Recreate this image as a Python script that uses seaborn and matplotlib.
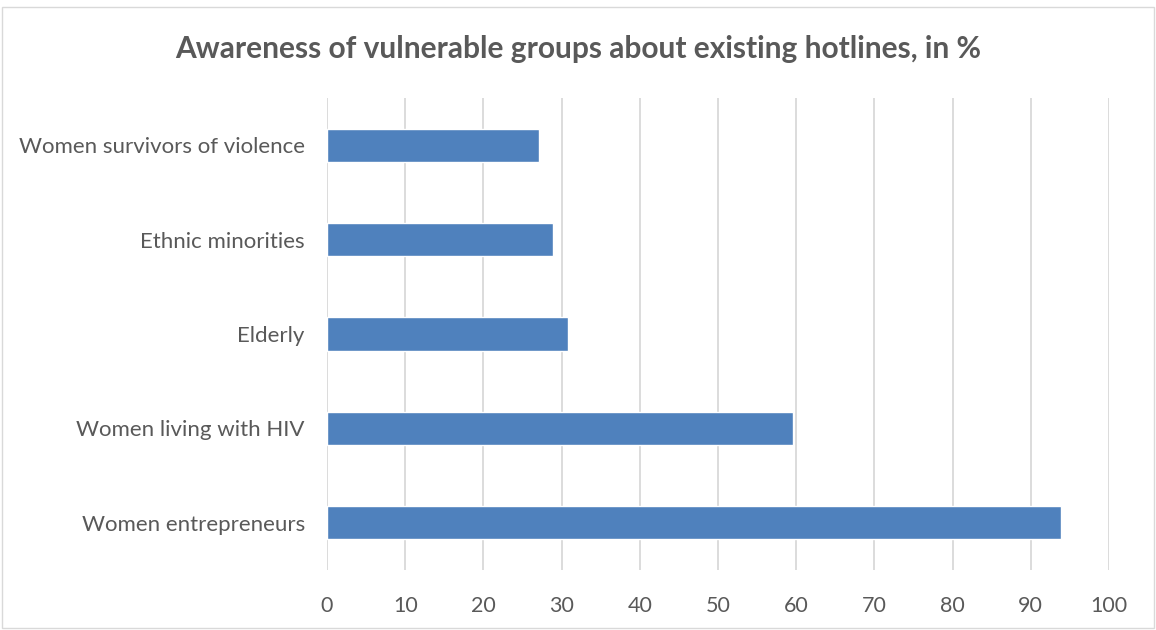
import matplotlib
matplotlib.use("Agg")
import matplotlib.pyplot as plt
import seaborn as sns
import pandas as pd
from matplotlib.patches import Rectangle

categories = ["Women survivors of violence", "Ethnic minorities", "Elderly",
              "Women living with HIV", "Women entrepreneurs"]
values = [27.1, 28.9, 30.8, 59.6, 93.8]
xticks = [0, 10, 20, 30, 40, 50, 60, 70, 80, 90, 100]
title = "Awareness of vulnerable groups about existing hotlines, in %"

sns.set_theme(style="white")
plt.rcParams['font.family'] = ['Lato', 'DejaVu Sans']

df = pd.DataFrame({"group": categories, "value": values})

fig = plt.figure(figsize=(11.56, 6.3), dpi=100)
ax = fig.add_axes([327/1156, 1-570/630, (1109-327)/1156, (570-98)/630])

sns.barplot(data=df, y="group", x="value", orient="h", color="#4F81BD",
            saturation=1, width=0.35, ax=ax, zorder=3)

ax.set_xlim(0, 100)
ax.set_ylim(4.5, -0.5)
ax.set_xticks(xticks)
ax.set_xticklabels([str(t) for t in xticks])
ax.grid(axis="x", color="#D9D9D9", linewidth=1.3, zorder=0)
ax.grid(axis="y", visible=False)
for s in ax.spines.values():
    s.set_visible(False)
ax.set_xlabel("")
ax.set_ylabel("")
ax.tick_params(axis="x", colors="#595959", labelsize=15.5, length=0, pad=19)
ax.tick_params(axis="y", colors="#595959", labelsize=16, length=0, pad=16)
for lab in ax.get_xticklabels() + ax.get_yticklabels():
    lab.set_color("#595959")

fig.text(0.5, 1-49/630, title, ha="center", va="center",
         fontsize=21.5, fontweight="bold", color="#595959")

fig.patches.append(Rectangle((2/1156, 2/630), 1-4/1156, 1-9/630,
                             transform=fig.transFigure, fill=False,
                             edgecolor="#D9D9D9", linewidth=1))

fig.savefig("out.png", dpi=100)
